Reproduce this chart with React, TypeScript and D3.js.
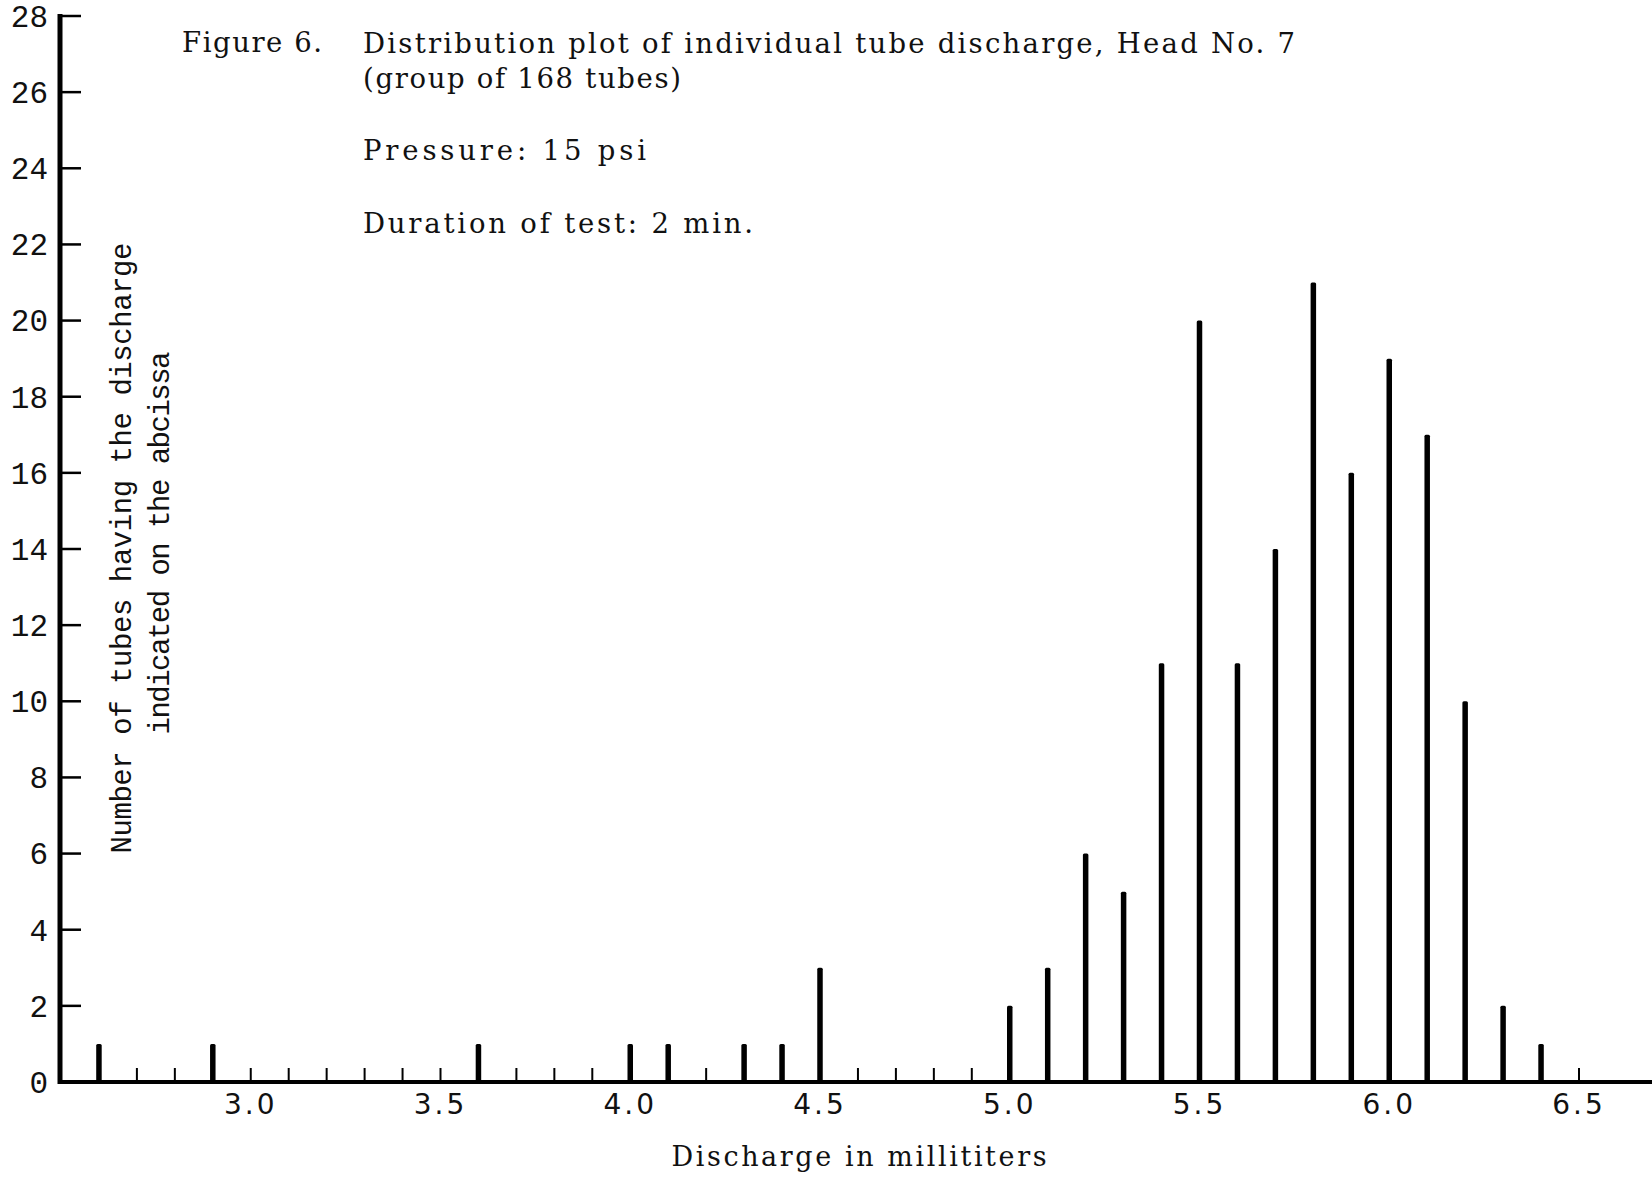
import React from "react";
import * as d3 from "d3";

// ---- data ----
const discharge = [2.6, 2.9, 3.6, 4.0, 4.1, 4.3, 4.4, 4.5, 5.0, 5.1, 5.2, 5.3, 5.4, 5.5, 5.6, 5.7, 5.8, 5.9, 6.0, 6.1, 6.2, 6.3, 6.4];
const tubeCounts = [1, 1, 1, 1, 1, 1, 1, 3, 2, 3, 6, 5, 11, 20, 11, 14, 21, 16, 19, 17, 10, 2, 1];
const xTickLabels = [3.0, 3.5, 4.0, 4.5, 5.0, 5.5, 6.0, 6.5];
const yTickValues = [0, 2, 4, 6, 8, 10, 12, 14, 16, 18, 20, 22, 24, 26, 28];
const minorTicks = [2.6, 2.7, 2.8, 2.9, 3.0, 3.1, 3.2, 3.3, 3.4, 3.5, 3.6, 3.7, 3.8, 3.9, 4.0, 4.1, 4.2, 4.3, 4.4, 4.5, 4.6, 4.7, 4.8, 4.9, 5.0, 5.1, 5.2, 5.3, 5.4, 5.5, 5.6, 5.7, 5.8, 5.9, 6.0, 6.1, 6.2, 6.3, 6.4, 6.5];
const titleLines = [
  "Distribution plot of individual tube discharge, Head No. 7",
  "(group of 168 tubes)",
];
const noteLines = ["Pressure:  15 psi", "Duration of test:  2 min."];
const figureLabel = "Figure 6.";
const xAxisTitle = "Discharge in millititers";
const yAxisTitle = ["Number of tubes having the discharge", "indicated on the abcissa"];

const W = 1652;
const H = 1181;

export default function App() {
  const x = d3.scaleLinear().domain([2.5, 6.5]).range([61, 1579]);
  const y = d3.scaleLinear().domain([0, 28]).range([1082, 16]);
  const bars = discharge.map((d, i) => ({ d, v: tubeCounts[i] }));
  const serif = "'DejaVu Serif', 'Liberation Serif', serif";
  const mono = "'Liberation Mono', 'DejaVu Sans Mono', monospace";
  const sans = "'DejaVu Sans', sans-serif";

  return (
    <svg
      width={W}
      height={H}
      viewBox={`0 0 ${W} ${H}`}
      style={{ position: "absolute", left: 0, top: 0, background: "#fff" }}
    >
      <rect x={0} y={0} width={W} height={H} fill="#fff" />

      {/* title block */}
      <g fill="#111" fontFamily={serif} fontSize={27.5}>
        <text x={182} y={52} textLength={140} lengthAdjust="spacing">{figureLabel}</text>
        <text x={363} y={53} textLength={932} lengthAdjust="spacing">{titleLines[0]}</text>
        <text x={363} y={88} textLength={318} lengthAdjust="spacing">{titleLines[1]}</text>
        <text x={363} y={160} textLength={283} lengthAdjust="spacing">{noteLines[0]}</text>
        <text x={363} y={233} textLength={390} lengthAdjust="spacing">{noteLines[1]}</text>
      </g>

      {/* y axis */}
      <line x1={x(2.5) - 1} x2={x(2.5) - 1} y1={y(28) - 2} y2={y(0) + 2} stroke="#000" strokeWidth={5} />
      {yTickValues.map((t) => (
        <g key={`yt${t}`}>
          {t > 0 && (
            <line x1={x(2.5)} x2={x(2.5) + 20} y1={y(t)} y2={y(t)} stroke="#000" strokeWidth={2.5} />
          )}
          <text
            x={48}
            y={y(t)}
            dy="0.35em"
            textAnchor="end"
            fontFamily={mono}
            fontSize={31}
            fill="#111"
          >
            {t}
          </text>
        </g>
      ))}

      {/* y axis title */}
      <text
        transform={`translate(131,548) rotate(-90)`}
        textAnchor="middle"
        fontFamily={mono}
        fontSize={29}
        fill="#111"
        textLength={611}
        lengthAdjust="spacing"
      >
        {yAxisTitle[0]}
      </text>
      <text
        transform={`translate(169,543) rotate(-90)`}
        textAnchor="middle"
        fontFamily={mono}
        fontSize={29}
        fill="#111"
        textLength={383}
        lengthAdjust="spacing"
      >
        {yAxisTitle[1]}
      </text>

      {/* x axis */}
      <line x1={x(2.5) - 3} x2={W} y1={y(0)} y2={y(0)} stroke="#000" strokeWidth={4} />
      {minorTicks.map((t) => (
        <line key={`mt${t}`} x1={x(t)} x2={x(t)} y1={y(0)} y2={y(0) - 14} stroke="#000" strokeWidth={2} />
      ))}
      {xTickLabels.map((t) => (
        <text
          key={`xl${t}`}
          x={x(t)}
          y={1114}
          textAnchor="middle"
          fontFamily={sans}
          fontSize={28}
          letterSpacing={3}
          fill="#111"
        >
          {t.toFixed(1)}
        </text>
      ))}
      <text
        x={859}
        y={1166}
        textAnchor="middle"
        fontFamily={serif}
        fontSize={27}
        fill="#111"
        textLength={375}
        lengthAdjust="spacing"
      >
        {xAxisTitle}
      </text>

      {/* bars */}
      {bars.map((b) => (
        <rect
          key={`b${b.d}`}
          x={x(b.d) - 2.75}
          y={y(b.v)}
          width={5.5}
          height={y(0) - y(b.v)}
          rx={1.5}
          fill="#000"
        />
      ))}
    </svg>
  );
}
